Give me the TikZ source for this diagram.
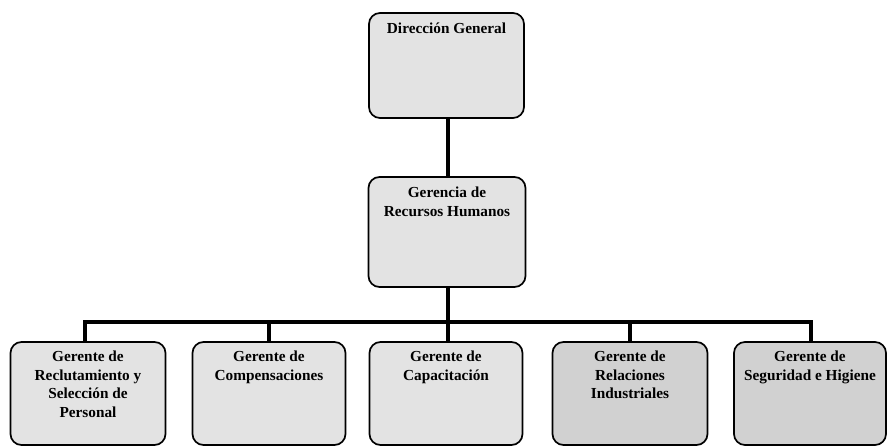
\documentclass[tikz,border=0pt]{standalone}
\usepackage{fontspec}
\setmainfont{Liberation Serif}
\begin{document}
\begin{tikzpicture}[x=1pt,y=-1pt,
  box/.style={draw=black, line width=1.7pt, rounded corners=11pt, inner sep=0pt},
  lightbox/.style={box, fill=gray!22},
  darkbox/.style={box, fill=gray!36},
  lbl/.style={anchor=north, align=center, inner sep=0pt, font=\fontsize{15.3}{18.5}\selectfont\bfseries},
  conn/.style={line width=3.8pt}]
\useasboundingbox (0,0) rectangle (887,446);
% connectors
\coordinate (bar) at (448,322);
\coordinate (dgb) at (448,118);
\coordinate (rht) at (448,177);
\coordinate (rhb) at (448,287);
\draw[conn] (dgb) -- (rht);
\draw[conn] (rhb) -- (bar);
% boxes
\node[lightbox, minimum width=155pt, minimum height=105pt] (dg) at (446.5,65.5) {};
\node[lightbox, minimum width=157pt, minimum height=110pt] (rh) at (447,232) {};
\node[lightbox, minimum width=155pt, minimum height=103pt] (c1) at (88,393.5) {};
\node[lightbox, minimum width=153pt, minimum height=103pt] (c2) at (269,393.5) {};
\node[lightbox, minimum width=153pt, minimum height=103pt] (c3) at (446,393.5) {};
\node[darkbox, minimum width=155pt, minimum height=103pt] (c4) at (630,393.5) {};
\node[darkbox, minimum width=152pt, minimum height=103pt] (c5) at (810,393.5) {};
\draw[conn] ([xshift=-3pt]c1.north) |- (bar);
\draw[conn] (c2.north) |- (bar);
\draw[conn] ([xshift=2pt]c3.north) -- (bar);
\draw[conn] (c4.north) |- (bar);
\draw[conn] ([xshift=1pt]c5.north) |- (bar);
% labels
\node[lbl] (tdg) at ([yshift=-11pt]dg.north) {Dirección General};
\node[lbl] (trh) at ([yshift=-11pt]rh.north) {Gerencia de\\Recursos Humanos};
\node[lbl] (t1) at ([yshift=-10pt]c1.north) {Gerente de\\Reclutamiento y\\Selección de\\Personal};
\node[lbl] (t2) at ([yshift=-10pt]c2.north) {Gerente de\\Compensaciones};
\node[lbl] (t3) at ([yshift=-10pt]c3.north) {Gerente de\\Capacitación};
\node[lbl] (t4) at ([yshift=-10pt]c4.north) {Gerente de\\Relaciones\\Industriales};
\node[lbl] (t5) at ([yshift=-10pt]c5.north) {Gerente de\\Seguridad e Higiene};
\end{tikzpicture}
\end{document}
